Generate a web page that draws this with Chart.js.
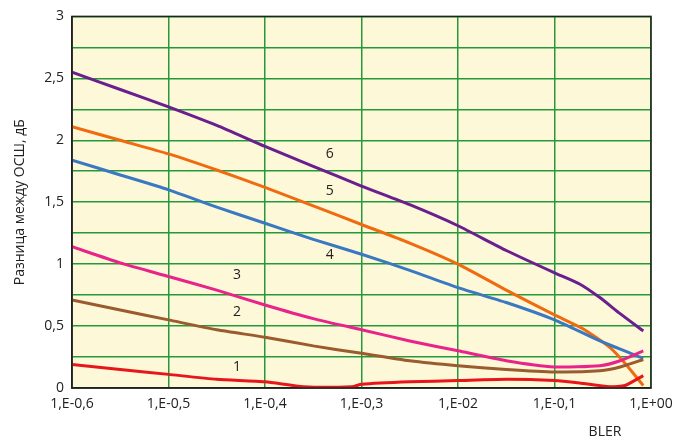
<!DOCTYPE html>
<html>
<head>
<meta charset="utf-8">
<script src="https://cdn.jsdelivr.net/npm/chart.js@4"></script>
<style>
  body { margin: 0; background: #fff; }
  #wrap { width: 691px; height: 442px; }
</style>
</head>
<body>
<div id="wrap"><canvas id="snrChart" width="691" height="442"></canvas></div>
<script>
// tick labels
const xLabels = ['1,E-0,6', '1,E-0,5', '1,E-0,4', '1,E-0,3', '1,E-02', '1,E-0,1', '1,E+00'];

// curve 1..6 (x = position along BLER axis, y = difference, dB)
const xs1 = [0, 0.5, 1, 1.5, 2, 2.4, 2.9, 3, 3.5, 4, 4.5, 5, 5.26, 5.57, 5.73, 5.92];
const ys1 = [0.19, 0.15, 0.11, 0.07, 0.05, 0.01, 0.01, 0.03, 0.05, 0.06, 0.07, 0.06, 0.04, 0.01, 0.02, 0.10];
const xs2 = [0, 0.5, 1, 1.5, 2, 2.5, 3, 3.5, 4, 4.5, 5, 5.47, 5.68, 5.92];
const ys2 = [0.71, 0.63, 0.55, 0.47, 0.41, 0.34, 0.28, 0.22, 0.18, 0.15, 0.13, 0.14, 0.17, 0.23];
const xs3 = [0, 0.5, 1, 1.5, 2, 2.5, 3, 3.5, 4, 4.5, 5, 5.47, 5.68, 5.92];
const ys3 = [1.14, 1.01, 0.90, 0.79, 0.67, 0.56, 0.47, 0.38, 0.30, 0.22, 0.17, 0.18, 0.22, 0.30];
const xs4 = [0, 0.5, 1, 1.5, 2, 2.5, 3, 3.5, 4, 4.5, 5, 5.47, 5.92];
const ys4 = [1.84, 1.72, 1.60, 1.46, 1.33, 1.20, 1.08, 0.95, 0.81, 0.69, 0.55, 0.38, 0.24];
const xs5 = [0, 0.5, 1, 1.5, 2, 2.5, 3, 3.5, 4, 4.5, 5, 5.29, 5.57, 5.73, 5.92];
const ys5 = [2.11, 2.00, 1.89, 1.76, 1.62, 1.47, 1.32, 1.17, 1.00, 0.79, 0.59, 0.48, 0.33, 0.20, 0.02];
const xs6 = [0, 0.5, 1, 1.5, 2, 2.5, 3, 3.5, 4, 4.5, 5, 5.26, 5.47, 5.68, 5.92];
const ys6 = [2.55, 2.41, 2.27, 2.12, 1.95, 1.79, 1.63, 1.48, 1.31, 1.11, 0.93, 0.84, 0.73, 0.60, 0.46];

// curve number labels
const curveNames = ['1', '2', '3', '4', '5', '6'];
const nameX = [1.71, 1.71, 1.71, 2.67, 2.67, 2.67];
const nameY = [0.17, 0.61, 0.91, 1.07, 1.59, 1.89];

const colors = ['#e8151b', '#9a5b2e', '#e8248a', '#3a78c2', '#f06a0f', '#6b1f8f'];
const fontFam = '"Open Sans", "Noto Sans", sans-serif';

function pts(xs, ys) {
    return xs.map((x, i) => ({ x: x, y: ys[i] }));
}

const series = [[xs1, ys1], [xs2, ys2], [xs3, ys3], [xs4, ys4], [xs5, ys5], [xs6, ys6]];

// cream plot background, frame and text labels
const decor = {
    id: 'decor',
    beforeDraw(chart) {
        const { ctx, chartArea: a } = chart;
        ctx.save();
        ctx.fillStyle = '#fdf8d8';
        ctx.fillRect(a.left, a.top, a.right - a.left, a.bottom - a.top);
        ctx.restore();
    },
    afterDatasetsDraw(chart) {
        const { ctx, chartArea: a, scales } = chart;
        ctx.save();
        ctx.strokeStyle = '#222';
        ctx.lineWidth = 1.5;
        ctx.strokeRect(a.left, a.top, a.right - a.left, a.bottom - a.top);
        ctx.fillStyle = '#222';
        ctx.font = '14px ' + fontFam;
        ctx.textAlign = 'center';
        ctx.textBaseline = 'middle';
        curveNames.forEach((n, i) => {
            ctx.fillText(n, scales.x.getPixelForValue(nameX[i]), scales.y.getPixelForValue(nameY[i]));
        });
        ctx.fillText('BLER', a.right - 46, 432);
        ctx.restore();
    }
};

new Chart(document.getElementById('snrChart'), {
    type: 'line',
    data: {
        datasets: series.map((s, i) => ({
            label: curveNames[i],
            data: pts(s[0], s[1]),
            borderColor: colors[i],
            borderWidth: 3,
            pointRadius: 0,
            tension: 0.2,
            fill: false
        }))
    },
    options: {
        responsive: false,
        animation: false,
        layout: { padding: { top: 14, right: 40, left: 0, bottom: 0 } },
        plugins: {
            legend: { display: false },
            tooltip: { enabled: false }
        },
        scales: {
            x: {
                type: 'linear',
                min: 0,
                max: 6,
                afterFit: s => { s.height = 54; },
                ticks: {
                    stepSize: 1,
                    padding: 8,
                    maxRotation: 0,
                    color: '#222',
                    font: { family: fontFam, size: 14 },
                    callback: v => xLabels[v] || ''
                },
                grid: { color: '#25993a', lineWidth: 1.5, drawTicks: false },
                border: { color: '#222', width: 1.5 }
            },
            y: {
                min: 0,
                max: 3,
                afterFit: s => { s.width = 72; },
                ticks: {
                    stepSize: 0.25,
                    padding: 8,
                    color: '#222',
                    font: { family: fontFam, size: 14 },
                    callback: v => (Math.abs(v * 2 - Math.round(v * 2)) < 1e-6) ? String(v).replace('.', ',') : ''
                },
                grid: { color: '#25993a', lineWidth: 1.5, drawTicks: false },
                border: { color: '#222', width: 1.5 },
                title: {
                    display: true,
                    text: 'Разница между ОСШ, дБ',
                    color: '#222',
                    font: { family: fontFam, size: 14 },
                    padding: { top: 12, bottom: 0 }
                }
            }
        }
    },
    plugins: [decor]
});
</script>
</body>
</html>
